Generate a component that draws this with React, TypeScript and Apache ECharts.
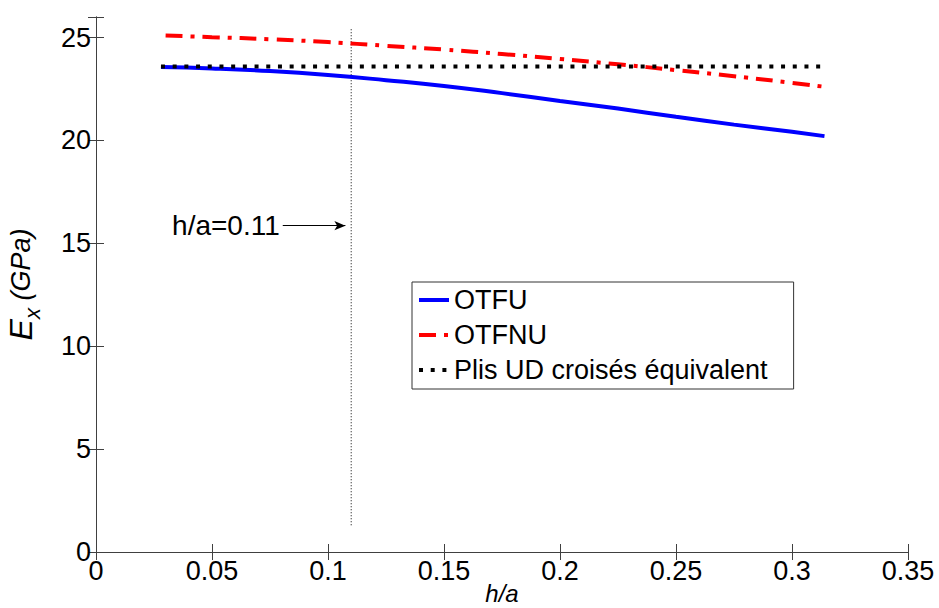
import React, { useEffect, useRef } from "react";
import * as echarts from "echarts";

const xTicks = [0, 0.05, 0.1, 0.15, 0.2, 0.25, 0.3, 0.35];
const otfuX = [0.028, 0.05, 0.075, 0.1, 0.125, 0.15, 0.175, 0.2, 0.225, 0.25, 0.275, 0.3, 0.314];
const otfuY = [23.57, 23.5, 23.37, 23.18, 22.93, 22.65, 22.3, 21.92, 21.55, 21.15, 20.77, 20.42, 20.21];
const otfnuX = [0.03, 0.05, 0.075, 0.1, 0.125, 0.15, 0.175, 0.2, 0.225, 0.25, 0.275, 0.3, 0.314];
const otfnuY = [25.1, 25.02, 24.92, 24.78, 24.6, 24.42, 24.2, 23.96, 23.7, 23.42, 23.12, 22.8, 22.61];
const udX = [0.028, 0.314];
const udY = [23.6, 23.6];
const markerX = 0.11;
const markerYRange = [1.3, 25.5];
const annotationText = "h/a=0.11";
const annotationY = 15.86;
const annotationArrowX = [0.0805, 0.1075];
const seriesNames = ["OTFU", "OTFNU", "Plis UD croisés équivalent"];

const FONT = "'Liberation Sans', Arial, sans-serif";

const zip = (xs: number[], ys: number[]) => xs.map((x, i) => [x, ys[i]]);

export default function App() {
  const ref = useRef<HTMLDivElement>(null);
  useEffect(() => {
    if (!ref.current) return;
    const chart = echarts.init(ref.current, undefined, { renderer: "svg" });
    const axisLineStyle = { color: "#404040", width: 1 };
    const tickStyle = { color: "#404040", width: 1 };
    chart.setOption({
      animation: false,
      backgroundColor: "#ffffff",
      textStyle: { fontFamily: FONT },
      grid: {
        left: 96,
        top: 17,
        right: 31,
        bottom: 56,
        containLabel: false,
        outerBoundsMode: "none",
      },
      legend: {
        orient: "vertical",
        left: 412,
        top: 282,
        data: seriesNames,
        itemWidth: 30,
        itemHeight: 8,
        itemGap: 7,
        itemStyle: { opacity: 0 },
        lineStyle: { width: 4 },
        padding: [4, 26, 5, 5],
        borderColor: "#333",
        borderWidth: 1,
        backgroundColor: "#fff",
        itemTextGap: 4,
        textStyle: { fontSize: 27, lineHeight: 28, color: "#000", fontFamily: FONT },
      },
      xAxis: [
        {
          type: "value",
          min: xTicks[0],
          max: xTicks[xTicks.length - 1],
          interval: 0.05,
          position: "bottom",
          name: "h/a",
          nameLocation: "middle",
          nameMoveOverlap: false,
          nameGap: 31,
          nameTextStyle: {
            fontSize: 24,
            lineHeight: 21,
            fontStyle: "italic",
            color: "#000",
            fontFamily: FONT,
            verticalAlign: "top",
          },
          axisLine: { show: true, lineStyle: axisLineStyle },
          axisTick: { show: true, inside: true, length: 8, lineStyle: tickStyle },
          axisLabel: { fontSize: 27, color: "#000", margin: 5, fontFamily: FONT },
          splitLine: { show: false },
        },
        {
          type: "value",
          min: xTicks[0],
          max: xTicks[xTicks.length - 1],
          interval: 0.05,
          position: "top",
          axisLine: { show: true, lineStyle: axisLineStyle },
          axisTick: { show: true, inside: true, length: 8, lineStyle: tickStyle },
          axisLabel: { show: false },
          splitLine: { show: false },
        },
      ],
      yAxis: [
        {
          type: "value",
          min: 0,
          max: 26,
          interval: 5,
          position: "left",
          name: "{e|E}{s|x}{g| (GPa)}",
          nameLocation: "middle",
          nameRotate: 90,
          nameGap: 53,
          nameTextStyle: {
            fontStyle: "italic",
            color: "#000",
            fontFamily: FONT,
            fontSize: 27,
            rich: {
              e: { fontSize: 32, fontStyle: "italic", color: "#000", fontFamily: FONT },
              s: { fontSize: 22, fontStyle: "italic", color: "#000", fontFamily: FONT, padding: [22, 0, 0, 0] },
              g: { fontSize: 27, fontStyle: "italic", color: "#000", fontFamily: FONT },
            },
          },
          axisLine: { show: true, lineStyle: axisLineStyle },
          axisTick: { show: true, inside: true, length: 8, lineStyle: tickStyle },
          axisLabel: {
            fontSize: 27,
            color: "#000",
            margin: 5,
            fontFamily: FONT,
            formatter: (v: number) => (v % 5 === 0 ? String(v) : ""),
          },
          splitLine: { show: false },
        },
        {
          type: "value",
          min: 0,
          max: 26,
          interval: 5,
          position: "right",
          axisLine: { show: true, lineStyle: axisLineStyle },
          axisTick: { show: true, inside: true, length: 8, lineStyle: tickStyle },
          axisLabel: { show: false },
          splitLine: { show: false },
        },
      ],
      series: [
        {
          name: "marker",
          type: "line",
          data: [
            [markerX, markerYRange[0]],
            [markerX, markerYRange[1]],
          ],
          showSymbol: false,
          symbol: "none",
          lineStyle: { color: "#000", width: 1, type: [1, 2] },
          silent: true,
          z: 1,
          markLine: {
            silent: true,
            symbol: ["none", "arrow"],
            symbolSize: [7, 11],
            lineStyle: { color: "#000", width: 1, type: "solid" },
            label: {
              show: true,
              position: "start",
              formatter: annotationText,
              fontSize: 28,
              color: "#000",
              fontFamily: FONT,
              distance: 3,
            },
            data: [
              [
                { coord: [annotationArrowX[0], annotationY] },
                { coord: [annotationArrowX[1], annotationY] },
              ],
            ],
          },
        },
        {
          name: seriesNames[0],
          type: "line",
          data: zip(otfuX, otfuY),
          showSymbol: false,
          symbol: "none",
          smooth: true,
          color: "#0000ff",
          lineStyle: { color: "#0000ff", width: 4 },
          z: 2,
        },
        {
          name: seriesNames[1],
          type: "line",
          data: zip(otfnuX, otfnuY),
          showSymbol: false,
          symbol: "none",
          smooth: true,
          color: "#ff0000",
          lineStyle: { color: "#ff0000", width: 4, type: [17, 8, 4, 8] },
          z: 3,
        },
        {
          name: seriesNames[2],
          type: "line",
          data: zip(udX, udY),
          showSymbol: false,
          symbol: "none",
          color: "#000",
          lineStyle: { color: "#000", width: 4, type: [4, 7.7] },
          z: 4,
        },
      ],
    });
    return () => chart.dispose();
  }, []);
  return (
    <div
      ref={ref}
      style={{ position: "fixed", left: 0, top: 0, width: 939, height: 608, background: "#fff" }}
    />
  );
}
